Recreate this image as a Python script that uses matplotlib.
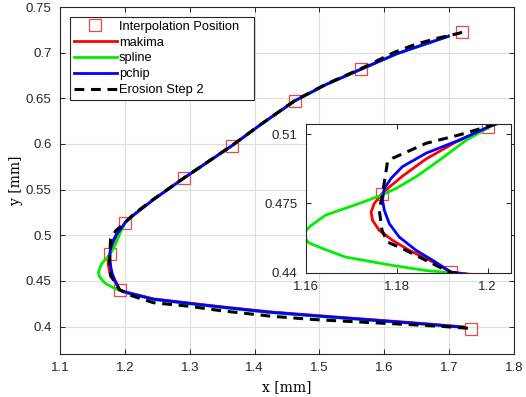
import matplotlib.pyplot as plt
from matplotlib.ticker import FormatStrFormatter

# interpolation positions (red squares)
interp_x = [1.7345, 1.192, 1.1767, 1.200, 1.291, 1.365, 1.462, 1.564, 1.720]
interp_y = [0.3977, 0.4402, 0.4797, 0.5136, 0.5626, 0.5983, 0.6472, 0.6818, 0.7223]

# pchip curve, read from top end -> tip -> lower end
pchip_x = [1.699, 1.620, 1.564, 1.510, 1.462, 1.410, 1.365, 1.291, 1.244, 1.215,
           1.2012, 1.1939, 1.1865, 1.1813, 1.1788, 1.1773, 1.1769, 1.1773, 1.1784,
           1.1806, 1.1843, 1.1880, 1.1920, 1.200, 1.213, 1.244, 1.290, 1.347,
           1.420, 1.500, 1.600, 1.660, 1.722]
pchip_y = [0.7180, 0.6990, 0.6818, 0.6650, 0.6472, 0.6215, 0.5980, 0.5626, 0.5390, 0.5230,
           0.5147, 0.5071, 0.5004, 0.4936, 0.4877, 0.4826, 0.4767, 0.4716, 0.4648,
           0.4580, 0.4513, 0.4462, 0.4403, 0.4378, 0.4355, 0.4300, 0.4262, 0.4215,
           0.4160, 0.4115, 0.4062, 0.4030, 0.3993]

makima_x = [1.699, 1.620, 1.564, 1.510, 1.462, 1.410, 1.365, 1.291, 1.244, 1.215,
            1.2012, 1.1930, 1.1865, 1.1813, 1.1780, 1.1767, 1.1751, 1.1744, 1.1747,
            1.1762, 1.1791, 1.1828, 1.1880, 1.1920, 1.200, 1.213, 1.244, 1.290,
            1.347, 1.420, 1.500, 1.600, 1.660, 1.722]
makima_y = [0.7182, 0.6992, 0.6820, 0.6652, 0.6474, 0.6217, 0.5982, 0.5628, 0.5392, 0.5232,
            0.5147, 0.5060, 0.4975, 0.4888, 0.4825, 0.4797, 0.4750, 0.4707, 0.4665,
            0.4614, 0.4564, 0.4513, 0.4454, 0.4403, 0.4382, 0.4359, 0.4304, 0.4266,
            0.4219, 0.4164, 0.4119, 0.4066, 0.4034, 0.3997]

spline_x = [1.699, 1.620, 1.564, 1.510, 1.462, 1.410, 1.365, 1.291, 1.244, 1.215,
            1.2020, 1.1954, 1.1895, 1.1843, 1.1799, 1.1767, 1.1718, 1.1644, 1.1610,
            1.1592, 1.1608, 1.1640, 1.1688, 1.1791, 1.1865, 1.1931, 1.205, 1.220,
            1.244, 1.290, 1.347, 1.420, 1.500, 1.600, 1.660, 1.722]
spline_y = [0.7180, 0.6990, 0.6818, 0.6650, 0.6472, 0.6215, 0.5980, 0.5626, 0.5392, 0.5234,
            0.5156, 0.5071, 0.4970, 0.4885, 0.4826, 0.4792, 0.4750, 0.4691, 0.4635,
            0.4590, 0.4550, 0.4520, 0.4479, 0.4437, 0.4411, 0.4398, 0.4365, 0.4340,
            0.4296, 0.4258, 0.4211, 0.4156, 0.4111, 0.4058, 0.4027, 0.3990]

# erosion step 2 (dashed)
erosion_x = [1.720, 1.7147, 1.6813, 1.648, 1.6154, 1.564, 1.510, 1.462, 1.410, 1.365,
             1.291, 1.244, 1.215, 1.2005, 1.1939, 1.1865, 1.1791, 1.1780, 1.1775,
             1.1768, 1.1762, 1.1768, 1.1780, 1.1813, 1.1865, 1.1917, 1.210, 1.244,
             1.300, 1.347, 1.424, 1.490, 1.563, 1.640, 1.690, 1.733]
erosion_y = [0.7223, 0.7212, 0.7157, 0.7092, 0.7004, 0.6825, 0.6655, 0.6475, 0.6217, 0.5983,
             0.5628, 0.5395, 0.5240, 0.5142, 0.5097, 0.5054, 0.4978, 0.4961, 0.4885,
             0.4783, 0.4716, 0.4614, 0.4555, 0.4522, 0.4462, 0.4403, 0.4340, 0.4262,
             0.4222, 0.4175, 0.4115, 0.4078, 0.4050, 0.4022, 0.4002, 0.3980]

x_ticks = [1.1, 1.2, 1.3, 1.4, 1.5, 1.6, 1.7, 1.8]
y_ticks = [0.4, 0.45, 0.5, 0.55, 0.6, 0.65, 0.7, 0.75]
inset_x_ticks = [1.16, 1.18, 1.2]
inset_y_ticks = [0.44, 0.475, 0.51]

plt.rcParams['font.family'] = ['Liberation Sans', 'DejaVu Sans']
plt.rcParams['font.size'] = 9.5


def draw(ax, sq=8):
    ax.plot(interp_x, interp_y, 's', ms=sq, mfc='none', mec='#e8474c', mew=0.9,
            label='Interpolation Position')
    ax.plot(makima_x, makima_y, color='#ff0000', lw=2, label='makima')
    ax.plot(spline_x, spline_y, color='#00ee00', lw=2, label='spline')
    ax.plot(pchip_x, pchip_y, color='#0000ff', lw=2, label='pchip')
    ax.plot(erosion_x, erosion_y, color='black', lw=2.2, ls=(0, (3.2, 2.2)),
            label='Erosion Step 2')


def style(ax):
    ax.tick_params(direction='in', top=True, right=True, length=3.5,
                   width=0.7, colors='#262626', labelsize=9.5, pad=6)
    for s in ax.spines.values():
        s.set_color('#262626')
        s.set_linewidth(0.8)
    ax.xaxis.set_major_formatter(FormatStrFormatter('%g'))
    ax.yaxis.set_major_formatter(FormatStrFormatter('%g'))


fig = plt.figure(figsize=(5.26, 3.97), dpi=100)
ax = fig.add_axes([0.1141, 0.1083, 0.863, 0.874])
draw(ax)
ax.set_xlim(1.1, 1.8)
ax.set_ylim(0.37, 0.75)
ax.set_xticks(x_ticks)
ax.set_yticks(y_ticks)
ax.grid(True, color='#dedede', lw=0.8)
ax.set_axisbelow(True)
style(ax)
ax.set_xlabel('x [mm]', family='DejaVu Serif', fontsize=10, labelpad=4)
ax.set_ylabel('y [mm]', family='DejaVu Serif', fontsize=10, labelpad=2)

# MATLAB-like legend box: wider than its text
leg = ax.legend(loc='upper left', bbox_to_anchor=(0.022, 0.972, 0.405, 0.0),
                mode='expand', borderaxespad=0, fontsize=9.3,
                handlelength=3.3, handletextpad=0.2, labelspacing=0.3,
                borderpad=0.3, fancybox=False, framealpha=1, edgecolor='#262626')
leg.get_frame().set_linewidth(0.8)

axin = fig.add_axes([0.581, 0.313, 0.390, 0.375])
draw(axin)
axin.set_xlim(1.16, 1.2051)
axin.set_ylim(0.44, 0.5152)
axin.set_xticks(inset_x_ticks)
axin.set_yticks(inset_y_ticks)
style(axin)

fig.savefig('out.png', dpi=100)
